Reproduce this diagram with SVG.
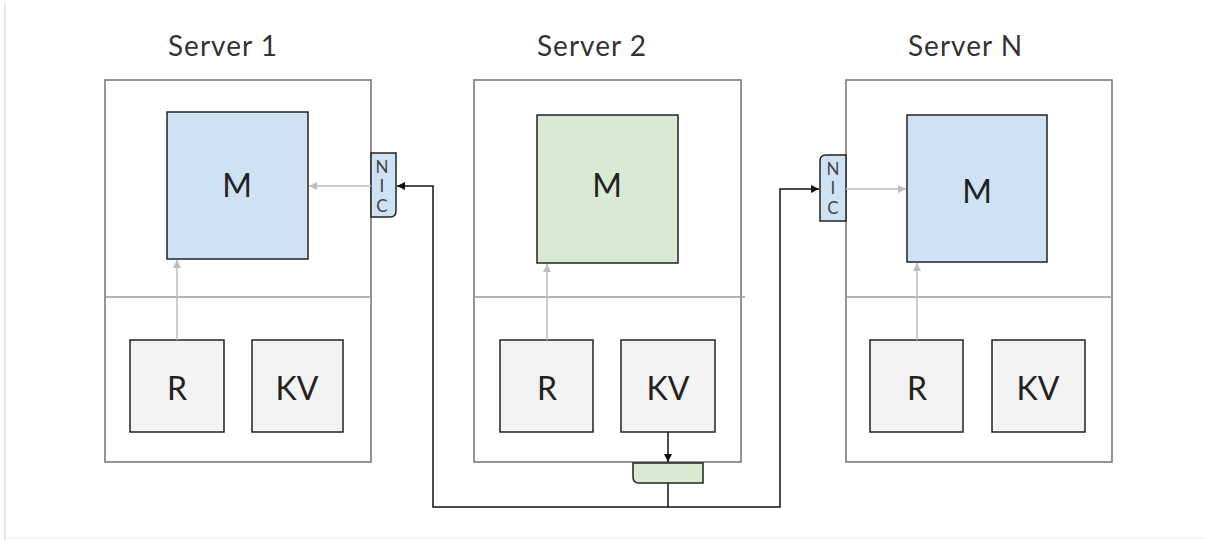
<svg xmlns="http://www.w3.org/2000/svg" width="1206" height="540" viewBox="0 0 1206 540">
  <style>
    .title { font-family: "Lato", "Liberation Sans", sans-serif; font-size: 28px; fill: #333; letter-spacing: 1px; }
    .lbl { font-family: "Lato", "Liberation Sans", sans-serif; font-size: 32px; fill: #222; text-anchor: middle; dominant-baseline: central; }
    .nic { font-family: "Lato", "Liberation Sans", sans-serif; font-size: 17px; fill: #444; text-anchor: middle; }
    .server { fill: #ffffff; stroke: #7a7a7a; stroke-width: 1.6; }
    .divider { stroke: #9a9a9a; stroke-width: 1.5; }
    .box { stroke: #222; stroke-width: 1.5; }
    .blue { fill: #cfe2f3; }
    .green { fill: #d9ead3; }
    .grey { fill: #f3f3f3; }
    .local { stroke: #bdbdbd; stroke-width: 1.5; fill: none; }
    .net { stroke: #111; stroke-width: 1.5; fill: none; }
  </style>
  <defs>
    <marker id="ah-dark" viewBox="0 0 10 10" refX="10" refY="5" markerWidth="8" markerHeight="8" markerUnits="userSpaceOnUse" orient="auto">
      <path d="M0,0 L10,5 L0,10 z" fill="#111"/>
    </marker>
    <marker id="ah-light" viewBox="0 0 10 10" refX="10" refY="5" markerWidth="8" markerHeight="8" markerUnits="userSpaceOnUse" orient="auto">
      <path d="M0,0 L10,5 L0,10 z" fill="#bdbdbd"/>
    </marker>
  </defs>

  <!-- frame edges -->
  <line x1="5" y1="3" x2="5" y2="540" stroke="#cccccc" stroke-width="1"/>
  <line x1="5" y1="538" x2="1206" y2="538" stroke="#eeeeee" stroke-width="1"/>

  <!-- Server 1 -->
  <g id="server1">
    <text class="title" x="168" y="56">Server 1</text>
    <rect class="server" x="105" y="80" width="266" height="382"/>
    <line class="divider" x1="105" y1="297" x2="371" y2="297"/>
  </g>
  <g id="server1-M">
    <rect class="box blue" x="167" y="112" width="141" height="147"/>
    <text class="lbl" x="237" y="184">M</text>
  </g>
  <g id="server1-R">
    <rect class="box grey" x="130" y="340" width="94" height="92"/>
    <text class="lbl" x="177" y="387">R</text>
  </g>
  <g id="server1-KV">
    <rect class="box grey" x="252" y="340" width="91" height="92"/>
    <text class="lbl" x="297" y="387">KV</text>
  </g>
  <g id="server1-NIC">
    <path class="box blue" d="M371,153 H396 V211 Q396,217 390,217 H371 Z"/>
    <text class="nic" x="382" y="173">N</text>
    <text class="nic" x="382" y="192">I</text>
    <text class="nic" x="382" y="212">C</text>
  </g>

  <!-- Server 2 -->
  <g id="server2">
    <text class="title" x="537" y="56">Server 2</text>
    <rect class="server" x="474" y="80" width="267" height="382"/>
    <line class="divider" x1="474" y1="297" x2="745" y2="297"/>
  </g>
  <g id="server2-M">
    <rect class="box green" x="537" y="115" width="141" height="148"/>
    <text class="lbl" x="607" y="184">M</text>
  </g>
  <g id="server2-R">
    <rect class="box grey" x="500" y="340" width="93" height="92"/>
    <text class="lbl" x="547" y="387">R</text>
  </g>
  <g id="server2-KV">
    <rect class="box grey" x="621" y="340" width="94" height="92"/>
    <text class="lbl" x="668" y="387">KV</text>
  </g>
  <g id="server2-NIC">
    <path class="box green" d="M633,463 H703 V483 H639 Q633,483 633,477 Z"/>
  </g>

  <!-- Server N -->
  <g id="serverN">
    <text class="title" x="908" y="56">Server N</text>
    <rect class="server" x="846" y="80" width="266" height="382"/>
    <line class="divider" x1="846" y1="297" x2="1112" y2="297"/>
  </g>
  <g id="serverN-M">
    <rect class="box blue" x="907" y="115" width="140" height="147"/>
    <text class="lbl" x="977" y="190">M</text>
  </g>
  <g id="serverN-R">
    <rect class="box grey" x="870" y="340" width="93" height="92"/>
    <text class="lbl" x="917" y="387">R</text>
  </g>
  <g id="serverN-KV">
    <rect class="box grey" x="992" y="340" width="93" height="92"/>
    <text class="lbl" x="1038" y="387">KV</text>
  </g>
  <g id="serverN-NIC">
    <path class="box blue" d="M846,155 V221 H820 V161 Q820,155 826,155 Z"/>
    <text class="nic" x="833" y="175">N</text>
    <text class="nic" x="833" y="194">I</text>
    <text class="nic" x="833" y="214">C</text>
  </g>

  <!-- connectors -->
  <g id="connectors">
    <!-- local links inside each server -->
    <line class="local" x1="177" y1="340" x2="177" y2="260" marker-end="url(#ah-light)"/>
    <line class="local" x1="371" y1="186" x2="309" y2="186" marker-end="url(#ah-light)"/>
    <line class="local" x1="547" y1="340" x2="547" y2="264" marker-end="url(#ah-light)"/>
    <line class="local" x1="917" y1="340" x2="917" y2="263" marker-end="url(#ah-light)"/>
    <line class="local" x1="846" y1="189" x2="906" y2="189" marker-end="url(#ah-light)"/>
    <!-- network path -->
    <line class="net" x1="668" y1="432" x2="668" y2="462" marker-end="url(#ah-dark)"/>
    <polyline class="net" points="668,483 668,507"/>
    <polyline class="net" points="668,507 433,507 433,186 397,186" marker-end="url(#ah-dark)"/>
    <polyline class="net" points="668,507 780,507 780,189 819,189" marker-end="url(#ah-dark)"/>
  </g>
</svg>
